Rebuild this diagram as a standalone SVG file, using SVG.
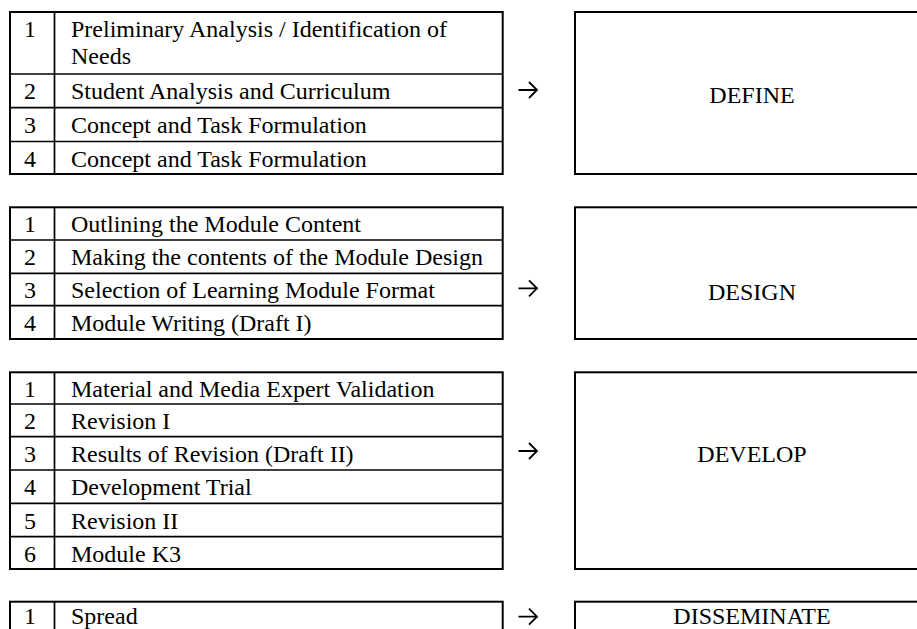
<svg xmlns="http://www.w3.org/2000/svg" width="917" height="629" viewBox="0 0 917 629">
<defs>
<style>
.t{font-family:"Liberation Serif","Times New Roman",serif;font-size:24px;fill:#000}
.c{text-anchor:middle}
.outer{fill:#fff;stroke:#000;stroke-width:2}
.inner{stroke:#000;stroke-width:1.7;fill:none}
.box{fill:#fff;stroke:#000;stroke-width:2}
.arr{stroke:#000;stroke-width:1.8;fill:none;stroke-linecap:butt;stroke-linejoin:miter}
</style>
</defs>
<rect width="917" height="629" fill="#fff"/>

<g id="table-define">
<rect class="outer" x="10" y="12" width="492.7" height="162"/>
<path class="inner" d="M54.5 12V174M10 74H502.7M10 107.7H502.7M10 141.5H502.7"/>
<text class="t" x="24" y="37">1</text>
<text class="t" x="71" y="37">Preliminary Analysis / Identification of</text>
<text class="t" x="71" y="63.5">Needs</text>
<text class="t" x="24" y="99">2</text>
<text class="t" x="71" y="99">Student Analysis and Curriculum</text>
<text class="t" x="24" y="132.7">3</text>
<text class="t" x="71" y="132.7">Concept and Task Formulation</text>
<text class="t" x="24" y="166.5">4</text>
<text class="t" x="71" y="166.5">Concept and Task Formulation</text>
</g>

<g id="table-design">
<rect class="outer" x="10" y="207.3" width="492.7" height="131.7"/>
<path class="inner" d="M54.5 207.3V339M10 240H502.7M10 273.3H502.7M10 305.7H502.7"/>
<text class="t" x="24" y="232">1</text>
<text class="t" x="71" y="232">Outlining the Module Content</text>
<text class="t" x="24" y="265">2</text>
<text class="t" x="71" y="265">Making the contents of the Module Design</text>
<text class="t" x="24" y="298.3">3</text>
<text class="t" x="71" y="298.3">Selection of Learning Module Format</text>
<text class="t" x="24" y="330.7">4</text>
<text class="t" x="71" y="330.7">Module Writing (Draft I)</text>
</g>

<g id="table-develop">
<rect class="outer" x="10" y="372.3" width="492.7" height="196.7"/>
<path class="inner" d="M54.5 372.3V569M10 404H502.7M10 436.7H502.7M10 470H502.7M10 503.3H502.7M10 536.7H502.7"/>
<text class="t" x="24" y="397">1</text>
<text class="t" x="71" y="397">Material and Media Expert Validation</text>
<text class="t" x="24" y="429">2</text>
<text class="t" x="71" y="429">Revision I</text>
<text class="t" x="24" y="462">3</text>
<text class="t" x="71" y="462">Results of Revision (Draft II)</text>
<text class="t" x="24" y="495.3">4</text>
<text class="t" x="71" y="495.3">Development Trial</text>
<text class="t" x="24" y="528.7">5</text>
<text class="t" x="71" y="528.7">Revision II</text>
<text class="t" x="24" y="561.5">6</text>
<text class="t" x="71" y="561.5">Module K3</text>
</g>

<g id="table-disseminate">
<rect class="outer" x="10" y="601.7" width="492.7" height="40"/>
<path class="inner" d="M54.5 601.7V641.7"/>
<text class="t" x="24" y="623.5">1</text>
<text class="t" x="71" y="623.5">Spread</text>
</g>

<g id="define">
<rect class="box" x="575" y="12" width="360" height="162"/>
<text class="t c" x="752" y="102.7">DEFINE</text>
</g>
<g id="design">
<rect class="box" x="575" y="207.3" width="360" height="131.7"/>
<text class="t c" x="752" y="299.5">DESIGN</text>
</g>
<g id="develop">
<rect class="box" x="575" y="372.3" width="360" height="196.7"/>
<text class="t c" x="752" y="461.7">DEVELOP</text>
</g>
<g id="disseminate">
<rect class="box" x="575" y="601.7" width="360" height="40"/>
<text class="t c" x="752" y="623.5">DISSEMINATE</text>
</g>

<g id="connectors">
<path class="arr" d="M518.5 90H537M529 82L537 90L529 98"/>
<path class="arr" d="M518.5 288.3H537M529 280.3L537 288.3L529 296.3"/>
<path class="arr" d="M518.5 451H537M529 443L537 451L529 459"/>
<path class="arr" d="M518.5 616.7H537M529 608.7L537 616.7L529 624.7"/>
</g>
</svg>
